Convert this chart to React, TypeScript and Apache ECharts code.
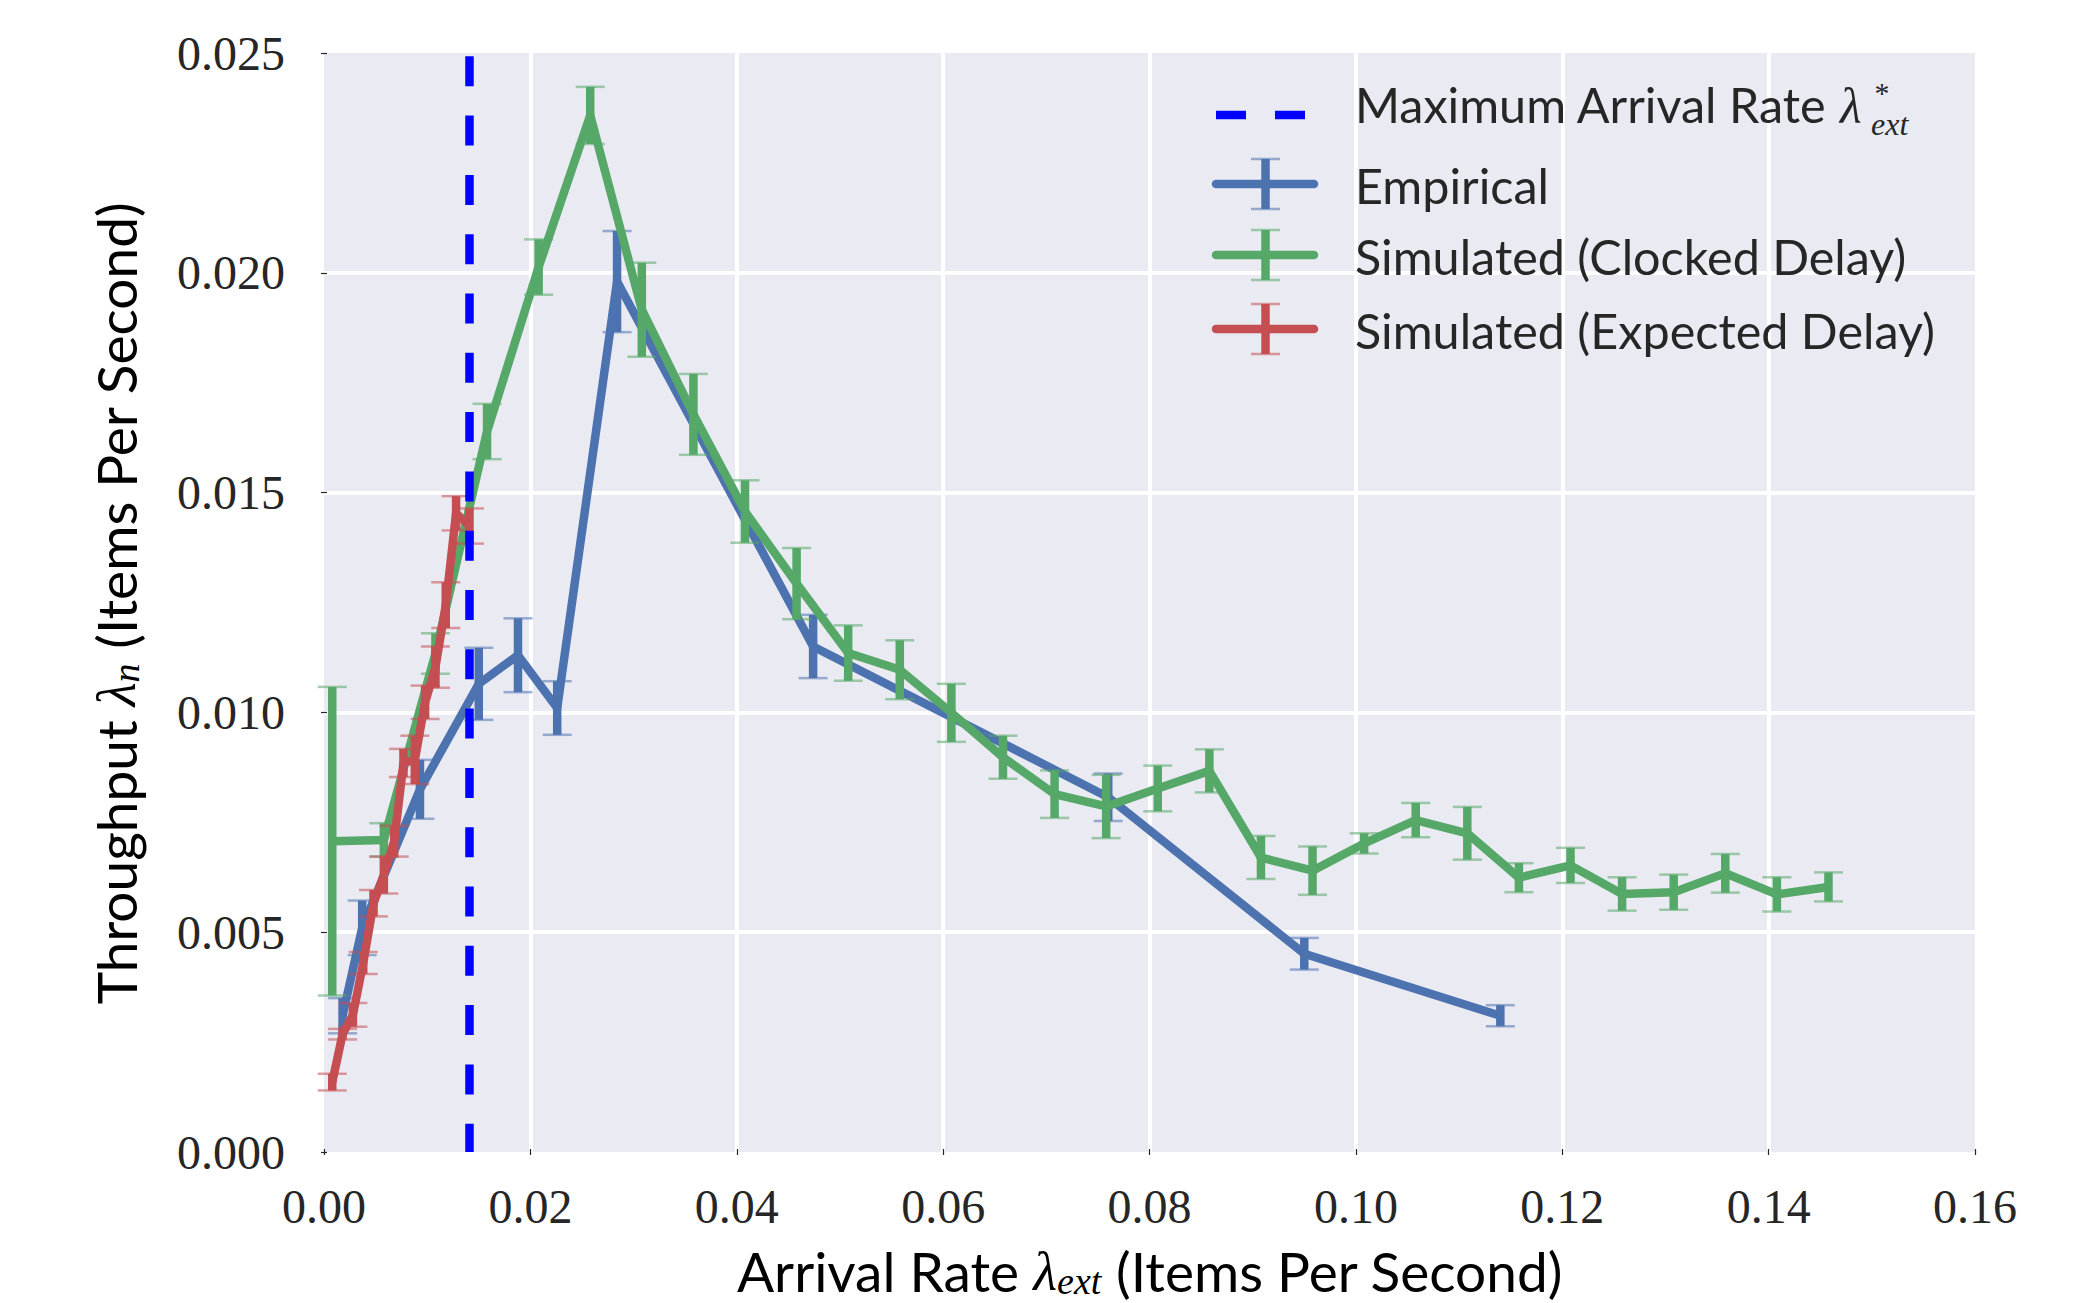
import React, { useEffect, useRef } from "react";
import * as echarts from "echarts";

// ---- data ----
const xMin = 0;
const xMax = 0.16;
const xStep = 0.02;
const yMin = 0;
const yMax = 0.025;
const yStep = 0.005;

const maxArrivalRate = 0.0141;

const empiricalX = [0.0018, 0.0037, 0.0093, 0.015, 0.0188, 0.0226, 0.0284, 0.0474, 0.076, 0.095, 0.114];
const empiricalY = [0.0031, 0.0051, 0.00825, 0.01065, 0.0113, 0.0101, 0.0198, 0.0115, 0.00807, 0.00451, 0.0031];
const empiricalErr = [0.0004, 0.00062, 0.00067, 0.00082, 0.00084, 0.00061, 0.00115, 0.00072, 0.00054, 0.00036, 0.00024];

const clockedX = [
  0.0008, 0.0058, 0.0108, 0.0158, 0.0208, 0.0258, 0.0308, 0.0358, 0.0408, 0.0458,
  0.0508, 0.0558, 0.0608, 0.0658, 0.0708, 0.0758, 0.0808, 0.0858, 0.0908, 0.0958,
  0.1008, 0.1058, 0.1108, 0.1158, 0.1208, 0.1258, 0.1308, 0.1358, 0.1408, 0.1458,
];
const clockedY = [
  0.00707, 0.0071, 0.01134, 0.01639, 0.02013, 0.02358, 0.01916, 0.01678, 0.01457, 0.01293,
  0.01135, 0.01097, 0.00999, 0.00898, 0.00814, 0.00786, 0.00827, 0.00867, 0.0067, 0.0064,
  0.00702, 0.00755, 0.00725, 0.00624, 0.00652, 0.00587, 0.00591, 0.00634, 0.00586, 0.00603,
];
const clockedErr = [
  0.00351, 0.00038, 0.00046, 0.00063, 0.00063, 0.00065, 0.00107, 0.00092, 0.00071, 0.00081,
  0.00063, 0.00067, 0.00066, 0.00049, 0.00054, 0.00072, 0.00052, 0.00049, 0.00049, 0.00055,
  0.00023, 0.00039, 0.0006, 0.00033, 0.0004, 0.00038, 0.0004, 0.00044, 0.00039, 0.00033,
];

const expectedX = [0.0008, 0.0018, 0.0028, 0.0038, 0.0048, 0.0058, 0.0068, 0.0077, 0.0088, 0.0098, 0.0108, 0.0118, 0.0128, 0.0141];
const expectedY = [0.00159, 0.00268, 0.00312, 0.0043, 0.00566, 0.0063, 0.00707, 0.00885, 0.00892, 0.01023, 0.01103, 0.01244, 0.01453, 0.01424];
const expectedErr = [0.00019, 0.00012, 0.00027, 0.00025, 0.0003, 0.00042, 0.00035, 0.00032, 0.00055, 0.00038, 0.00047, 0.00052, 0.00039, 0.0004];

const legendLabels = [
  "Maximum Arrival Rate",
  "Empirical",
  "Simulated (Clocked Delay)",
  "Simulated (Expected Delay)",
];

// ---- styles ----
const BLUE = "#4C72B0";
const GREEN = "#55A868";
const RED = "#C44E52";
const DASH = "#0000FF";
const TEXT = "#262626";
const SANS = "Lato, 'Open Sans', sans-serif";
const SERIF = "'Liberation Serif', 'DejaVu Serif', serif";
const LW = 8.5;
const CAP_HALF = 14.5;

const pairs = (xs: number[], ys: number[]) => xs.map((x, i) => [x, ys[i]]);
const triples = (xs: number[], ys: number[], es: number[]) => xs.map((x, i) => [x, ys[i], es[i]]);

const errRender = (color: string) => (params: any, api: any) => {
  const x = api.value(0);
  const y = api.value(1);
  const e = api.value(2);
  const top = api.coord([x, y + e]);
  const bot = api.coord([x, y - e]);
  return {
    type: "group",
    children: [
      { type: "line", shape: { x1: top[0], y1: top[1], x2: bot[0], y2: bot[1] }, style: { stroke: color, lineWidth: LW } },
      { type: "line", shape: { x1: top[0] - CAP_HALF, y1: top[1], x2: top[0] + CAP_HALF, y2: top[1] }, style: { stroke: color, lineWidth: 2.5, opacity: 0.55 } },
      { type: "line", shape: { x1: bot[0] - CAP_HALF, y1: bot[1], x2: bot[0] + CAP_HALF, y2: bot[1] }, style: { stroke: color, lineWidth: 2.5, opacity: 0.55 } },
    ],
  };
};

const lineSeries = (name: string, data: number[][], color: string, z: number) => ({
  name,
  type: "line",
  data,
  symbol: "none",
  showSymbol: false,
  z,
  lineStyle: { color, width: LW, join: "round", cap: "butt" },
  emphasis: { disabled: true },
});

const errSeries = (name: string, data: number[][], color: string, z: number) => ({
  name,
  type: "custom",
  data,
  z,
  encode: { x: 0, y: 1 },
  renderItem: errRender(color),
});

const legendHandle = (y: number, color: string) => [
  { type: "line", shape: { x1: 1216, y1: y, x2: 1314, y2: y }, style: { stroke: color, lineWidth: LW, lineCap: "round" }, z: 100 },
  { type: "line", shape: { x1: 1265.5, y1: y - 25, x2: 1265.5, y2: y + 25 }, style: { stroke: color, lineWidth: LW }, z: 100 },
  { type: "line", shape: { x1: 1265.5 - CAP_HALF, y1: y - 25, x2: 1265.5 + CAP_HALF, y2: y - 25 }, style: { stroke: color, lineWidth: 2.5, opacity: 0.55 }, z: 100 },
  { type: "line", shape: { x1: 1265.5 - CAP_HALF, y1: y + 25, x2: 1265.5 + CAP_HALF, y2: y + 25 }, style: { stroke: color, lineWidth: 2.5, opacity: 0.55 }, z: 100 },
];

const legendText = (y: number, text: string) => ({
  type: "text",
  x: 1355,
  y,
  z: 100,
  style: { text, fontFamily: SANS, fontSize: 48.5, fill: TEXT, align: "left", verticalAlign: "middle" },
});

const richLabel = (parts: string) => ({
  text: parts,
  align: "center",
  verticalAlign: "middle",
  rich: {
    m: { fontFamily: SANS, fontSize: 55, lineHeight: 58, color: TEXT, verticalAlign: "middle" },
    l: { fontFamily: SERIF, fontStyle: "italic", fontSize: 55, lineHeight: 58, color: TEXT, verticalAlign: "middle" },
    s: { fontFamily: SERIF, fontStyle: "italic", fontSize: 38, lineHeight: 32, color: TEXT, verticalAlign: "bottom" },
  },
});

export default function App() {
  const ref = useRef<HTMLDivElement>(null);

  useEffect(() => {
    if (!ref.current) return;
    const chart = echarts.init(ref.current, undefined, { renderer: "svg" });

    const tickStyle = { show: true, length: 3, inside: false, lineStyle: { color: TEXT, width: 1.2 } };

    const option: any = {
      animation: false,
      backgroundColor: "#ffffff",
      grid: {
        left: 324,
        top: 53,
        width: 1651,
        height: 1099,
        show: true,
        backgroundColor: "#EAEAF2",
        borderWidth: 0,
        containLabel: false,
      },
      xAxis: [
        {
          type: "value",
          min: xMin,
          max: xMax,
          interval: xStep,
          axisLine: { show: false },
          axisTick: tickStyle,
          axisLabel: {
            margin: 30,
            fontFamily: SERIF,
            fontSize: 48,
            color: TEXT,
            formatter: (v: number) => v.toFixed(2),
          },
          splitLine: { show: true, showMinLine: false, showMaxLine: false, lineStyle: { color: "#ffffff", width: 4 } },
        },
        {
          type: "value",
          position: "top",
          min: xMin,
          max: xMax,
          interval: xStep,
          axisLine: { show: false },
          axisTick: tickStyle,
          axisLabel: { show: false },
          splitLine: { show: false },
        },
      ],
      yAxis: [
        {
          type: "value",
          min: yMin,
          max: yMax,
          interval: yStep,
          axisLine: { show: false },
          axisTick: tickStyle,
          axisLabel: {
            margin: 39,
            fontFamily: SERIF,
            fontSize: 48,
            color: TEXT,
            formatter: (v: number) => v.toFixed(3),
          },
          splitLine: { show: true, showMinLine: false, showMaxLine: false, lineStyle: { color: "#ffffff", width: 4 } },
        },
        {
          type: "value",
          position: "right",
          min: yMin,
          max: yMax,
          interval: yStep,
          axisLine: { show: false },
          axisTick: tickStyle,
          axisLabel: { show: false },
          splitLine: { show: false },
        },
      ],
      series: [
        lineSeries("Empirical", pairs(empiricalX, empiricalY), BLUE, 2),
        errSeries("Empirical err", triples(empiricalX, empiricalY, empiricalErr), BLUE, 3),
        lineSeries("Simulated (Clocked Delay)", pairs(clockedX, clockedY), GREEN, 4),
        errSeries("Clocked err", triples(clockedX, clockedY, clockedErr), GREEN, 5),
        lineSeries("Simulated (Expected Delay)", pairs(expectedX, expectedY), RED, 6),
        errSeries("Expected err", triples(expectedX, expectedY, expectedErr), RED, 7),
        {
          name: "Maximum Arrival Rate",
          type: "line",
          data: [
            [maxArrivalRate, yMax],
            [maxArrivalRate, yMin],
          ],
          symbol: "none",
          z: 10,
          lineStyle: { color: DASH, width: LW, type: [30, 29.3], dashOffset: 55.7, cap: "butt" },
          emphasis: { disabled: true },
        },
      ],
      graphic: [
        // legend: dashed handle
        { type: "line", shape: { x1: 1216, y1: 115, x2: 1246, y2: 115 }, style: { stroke: DASH, lineWidth: LW }, z: 100 },
        { type: "line", shape: { x1: 1275, y1: 115, x2: 1305, y2: 115 }, style: { stroke: DASH, lineWidth: LW }, z: 100 },
        legendText(104, legendLabels[0]),
        { type: "text", x: 1840, y: 106, z: 100, style: { text: "λ", fontFamily: SERIF, fontStyle: "italic", fontSize: 50, fill: TEXT, align: "left", verticalAlign: "middle" } },
        { type: "text", x: 1873, y: 92, z: 100, style: { text: "*", fontFamily: SERIF, fontStyle: "italic", fontSize: 30, fill: TEXT, align: "left", verticalAlign: "middle" } },
        { type: "text", x: 1871, y: 124, z: 100, style: { text: "ext", fontFamily: SERIF, fontStyle: "italic", fontSize: 32, fill: TEXT, align: "left", verticalAlign: "middle" } },
        ...legendHandle(184, BLUE),
        legendText(185, legendLabels[1]),
        ...legendHandle(255, GREEN),
        legendText(256, legendLabels[2]),
        ...legendHandle(329, RED),
        legendText(330, legendLabels[3]),
        // axis titles
        {
          type: "text",
          x: 1150,
          y: 1271,
          z: 100,
          style: richLabel("{m|Arrival Rate }{l|λ}{s|ext}{m| (Items Per Second)}"),
        },
        {
          type: "text",
          x: 116,
          y: 603,
          rotation: Math.PI / 2,
          z: 100,
          style: richLabel("{m|Throughput }{l|λ}{s|n}{m| (Items Per Second)}"),
        },
      ],
    };

    chart.setOption(option);
    return () => chart.dispose();
  }, []);

  return (
    <div
      ref={ref}
      style={{ position: "absolute", left: 0, top: 0, width: 2088, height: 1303, background: "#ffffff" }}
    />
  );
}
